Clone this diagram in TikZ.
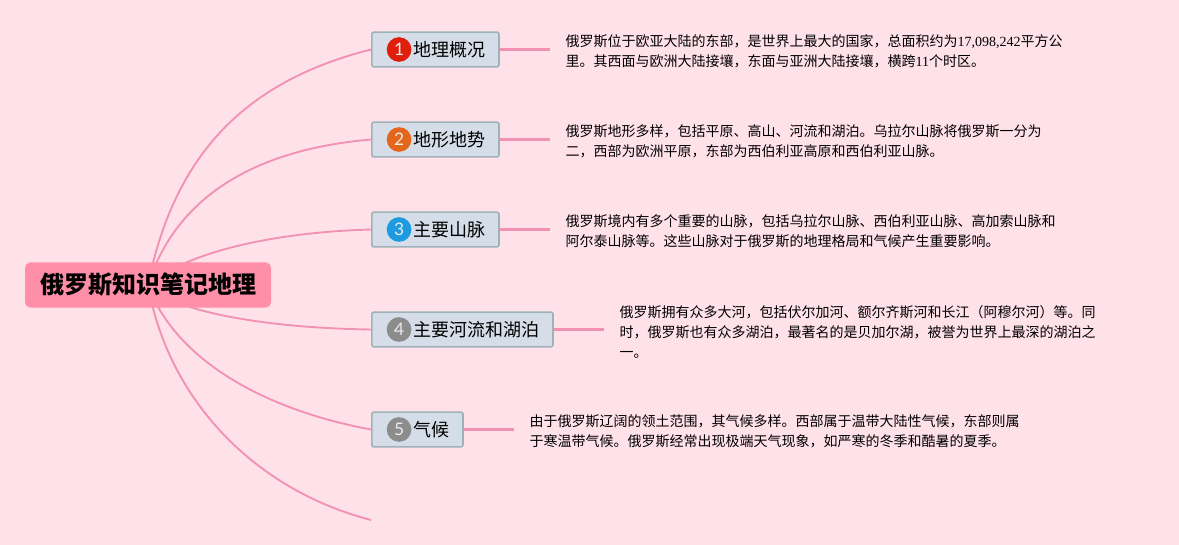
\documentclass[tikz,border=0pt]{standalone}
\usepackage{fontspec}
\setmainfont{Noto Sans CJK SC}
\newfontfamily\latinnum{Liberation Serif}
\newfontfamily\badgenum{Lato}
\usetikzlibrary{positioning}
\definecolor{pagepink}{HTML}{FFE1EA}
\definecolor{branchpink}{HTML}{F292B3}
\definecolor{rootpink}{HTML}{FF8FA9}
\definecolor{topicfill}{HTML}{D5DDE8}
\definecolor{topicline}{HTML}{9DB3B8}
\definecolor{badgered}{HTML}{DF1F0B}
\definecolor{badgeorange}{HTML}{E4661A}
\definecolor{badgeblue}{HTML}{1D9BE0}
\definecolor{badgegrey}{HTML}{8C8C8C}
\pgfdeclarelayer{back}
\pgfsetlayers{back,main}
\newcommand{\num}[1]{{\latinnum #1}}
\tikzset{
  rootblock/.style={fill=rootpink, rounded corners=4pt, minimum width=184.5pt, minimum height=34pt, inner sep=0pt, font=\fontsize{18}{22}\selectfont\bfseries},
  topicblock/.style={draw=topicline, line width=1.2pt, fill=topicfill, rounded corners=1.5pt, minimum height=26pt, inner xsep=10.2pt, inner ysep=0pt, font=\fontsize{13.5}{16}\selectfont, execute at begin node=\hspace*{21pt}},
  badge/.style={circle, minimum size=18.5pt, inner sep=0pt, text=white!85!gray, font=\fontsize{13}{13}\selectfont\badgenum},
  noteblock/.style={align=left, inner sep=0pt, yshift=-1.5pt, font=\fontsize{10.5}{15}\selectfont},
  branch/.style={draw=branchpink, line width=1.4pt},
  stub/.style={draw=branchpink, line width=1.6pt, shorten >=11.25pt}
}
\begin{document}
\begin{tikzpicture}[x=0.75pt, y=-0.75pt, node distance=11pt and 49.25pt]
\node[rootblock] (root) at (148,285) {\hspace*{1pt}俄罗斯知识笔记地理};
\node[topicblock, anchor=west] (geo) at (371,49.5) {地理概况};
\node[topicblock, anchor=west] (land) at (371,139.5) {地形地势};
\node[topicblock, anchor=west] (mount) at (371,229.5) {主要山脉};
\node[topicblock, anchor=west] (river) at (371,329.5) {主要河流和湖泊};
\node[topicblock, anchor=west] (climate) at (371,429.5) {气候};
\coordinate (blank) at (371,520);
% numbered badges
\node[badge, fill=badgered, right=11.6pt of geo.west] (b1) {1};
\node[badge, fill=badgeorange, right=11.6pt of land.west] (b2) {2};
\node[badge, fill=badgeblue, right=11.6pt of mount.west] (b3) {3};
\node[badge, fill=badgegrey, right=11.6pt of river.west] (b4) {4};
\node[badge, fill=badgegrey, right=11.6pt of climate.west] (b5) {5};
% notes
\node[noteblock, right=of geo] (geonote) {俄罗斯位于欧亚大陆的东部，是世界上最大的国家，总面积约为\num{17,098,242}平方公\\里。其西面与欧洲大陆接壤，东面与亚洲大陆接壤，横跨\num{11}个时区。};
\node[noteblock, right=of land] (landnote) {俄罗斯地形多样，包括平原、高山、河流和湖泊。乌拉尔山脉将俄罗斯一分为\\二，西部为欧洲平原，东部为西伯利亚高原和西伯利亚山脉。};
\node[noteblock, right=of mount] (mountnote) {俄罗斯境内有多个重要的山脉，包括乌拉尔山脉、西伯利亚山脉、高加索山脉和\\阿尔泰山脉等。这些山脉对于俄罗斯的地理格局和气候产生重要影响。};
\node[noteblock, right=of river] (rivernote) {俄罗斯拥有众多大河，包括伏尔加河、额尔齐斯河和长江（阿穆尔河）等。同\\时，俄罗斯也有众多湖泊，最著名的是贝加尔湖，被誉为世界上最深的湖泊之\\一。};
\node[noteblock, right=of climate] (climatenote) {由于俄罗斯辽阔的领土范围，其气候多样。西部属于温带大陆性气候，东部则属\\于寒温带气候。俄罗斯经常出现极端天气现象，如严寒的冬季和酷暑的夏季。};
% branches run behind the root
\begin{pgfonlayer}{back}
\fill[pagepink] (0,0) rectangle (1179,545);
\draw[branch] (root.center) .. controls (175,150) and (250,80) .. (geo.west);
\draw[branch] (root.center) .. controls (175,200) and (250,150) .. (land.west);
\draw[branch] (root.center) .. controls (190,250) and (280,232) .. (mount.west);
\draw[branch] (root.center) .. controls (170,310) and (260,328) .. (river.west);
\draw[branch] (root.center) .. controls (175,360) and (265,410) .. (climate.west);
\draw[branch] (root.center) .. controls (168,400) and (255,490) .. (blank);
\end{pgfonlayer}
\draw[stub] (geo) -- (geonote.west |- geo);
\draw[stub] (land) -- (landnote.west |- land);
\draw[stub] (mount) -- (mountnote.west |- mount);
\draw[stub] (river) -- (rivernote.west |- river);
\draw[stub] (climate) -- (climatenote.west |- climate);
\end{tikzpicture}
\end{document}
